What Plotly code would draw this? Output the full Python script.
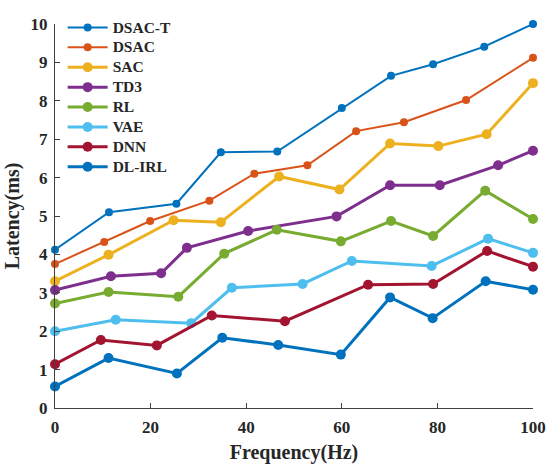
import plotly.graph_objects as go

names = ["DSAC-T", "DSAC", "SAC", "TD3", "RL", "VAE", "DNN", "DL-IRL"]
colors = ["#0072BD", "#D95319", "#EDB120", "#7E2F8E", "#77AC30", "#4DBEEE", "#A2142F", "#0072BD"]

dsac_t_x = [0, 11.3, 25.4, 34.7, 46.5, 60.0, 70.3, 79.1, 89.8, 100]
dsac_t_y = [4.12, 5.10, 5.32, 6.66, 6.68, 7.81, 8.65, 8.95, 9.41, 10.0]

dsac_x = [0, 10.3, 19.9, 32.3, 41.7, 52.8, 63.0, 73.0, 86.0, 100]
dsac_y = [3.75, 4.32, 4.87, 5.40, 6.10, 6.32, 7.21, 7.44, 8.02, 9.12]

sac_x = [0, 11.2, 24.8, 34.7, 46.9, 59.5, 70.1, 80.2, 90.3, 100]
sac_y = [3.30, 3.99, 4.89, 4.84, 6.03, 5.69, 6.89, 6.82, 7.13, 8.46]

td3_x = [0, 11.7, 22.2, 27.6, 40.4, 58.9, 70.1, 80.5, 92.7, 100]
td3_y = [3.07, 3.43, 3.51, 4.17, 4.61, 4.99, 5.80, 5.80, 6.32, 6.70]

rl_x = [0, 11.2, 25.8, 35.4, 46.4, 59.8, 70.3, 79.1, 90.0, 100]
rl_y = [2.72, 3.02, 2.90, 4.02, 4.64, 4.34, 4.87, 4.48, 5.66, 4.92]

vae_x = [0, 12.7, 28.5, 37.0, 51.8, 62.1, 78.8, 90.6, 100]
vae_y = [2.00, 2.30, 2.21, 3.13, 3.23, 3.83, 3.70, 4.41, 4.04]

dnn_x = [0, 9.6, 21.3, 32.8, 48.1, 65.5, 79.1, 90.4, 100]
dnn_y = [1.14, 1.77, 1.63, 2.41, 2.26, 3.21, 3.23, 4.09, 3.68]

dlirl_x = [0, 11.2, 25.5, 35.0, 46.7, 59.8, 70.1, 79.0, 90.1, 100]
dlirl_y = [0.56, 1.30, 0.90, 1.83, 1.64, 1.39, 2.88, 2.34, 3.30, 3.08]

xs = [dsac_t_x, dsac_x, sac_x, td3_x, rl_x, vae_x, dnn_x, dlirl_x]
ys = [dsac_t_y, dsac_y, sac_y, td3_y, rl_y, vae_y, dnn_y, dlirl_y]

x_ticks = [0, 20, 40, 60, 80, 100]
y_ticks = list(range(0, 11))

font_family = "Liberation Serif"

fig = go.Figure()
for i, name in enumerate(names):
    thin = i < 2
    fig.add_trace(go.Scatter(
        x=xs[i], y=ys[i], name=f'<span style="font-size:15.5px">{name}</span>',
        mode="lines+markers",
        line=dict(color=colors[i], width=2 if thin else 3),
        marker=dict(color=colors[i], size=8 if thin else 10,
                    symbol="circle"),
        cliponaxis=False,
    ))

axis_common = dict(
    showline=True, linecolor="#404040", linewidth=1.2, mirror=False,
    ticks="inside", ticklen=5, tickcolor="#404040", tickwidth=1,
    showgrid=False, zeroline=False, automargin=False,
    ticklabeloverflow="allow",
    tickfont=dict(family=font_family, size=17, color="#262626", weight="bold"),
)

fig.update_xaxes(range=[0, 100], tickvals=x_ticks, ticklabelstandoff=3,
                 title=dict(text="Frequency(Hz)", standoff=9,
                            font=dict(family=font_family, size=20, color="#262626", weight="bold")),
                 **axis_common)
fig.update_yaxes(range=[0, 10], tickvals=y_ticks, ticklabelstandoff=3,
                 title=dict(text="Latency(ms)", standoff=5,
                            font=dict(family=font_family, size=20, color="#262626", weight="bold")),
                 **axis_common)

fig.update_layout(
    width=546, height=465,
    margin=dict(l=55, r=13, t=17, b=57),
    plot_bgcolor="white", paper_bgcolor="white",
    legend=dict(x=0.016, y=1.03, xanchor="left", yanchor="top",
                bgcolor="rgba(255,255,255,0)", borderwidth=0,
                font=dict(family=font_family, size=13, color="#262626", weight="bold"),
                tracegroupgap=0, itemwidth=40),
    showlegend=True,
)

fig.write_html("out.html",
               config={"displayModeBar": False},
               post_script="document.body.style.margin='0';document.body.style.overflow='hidden';")
